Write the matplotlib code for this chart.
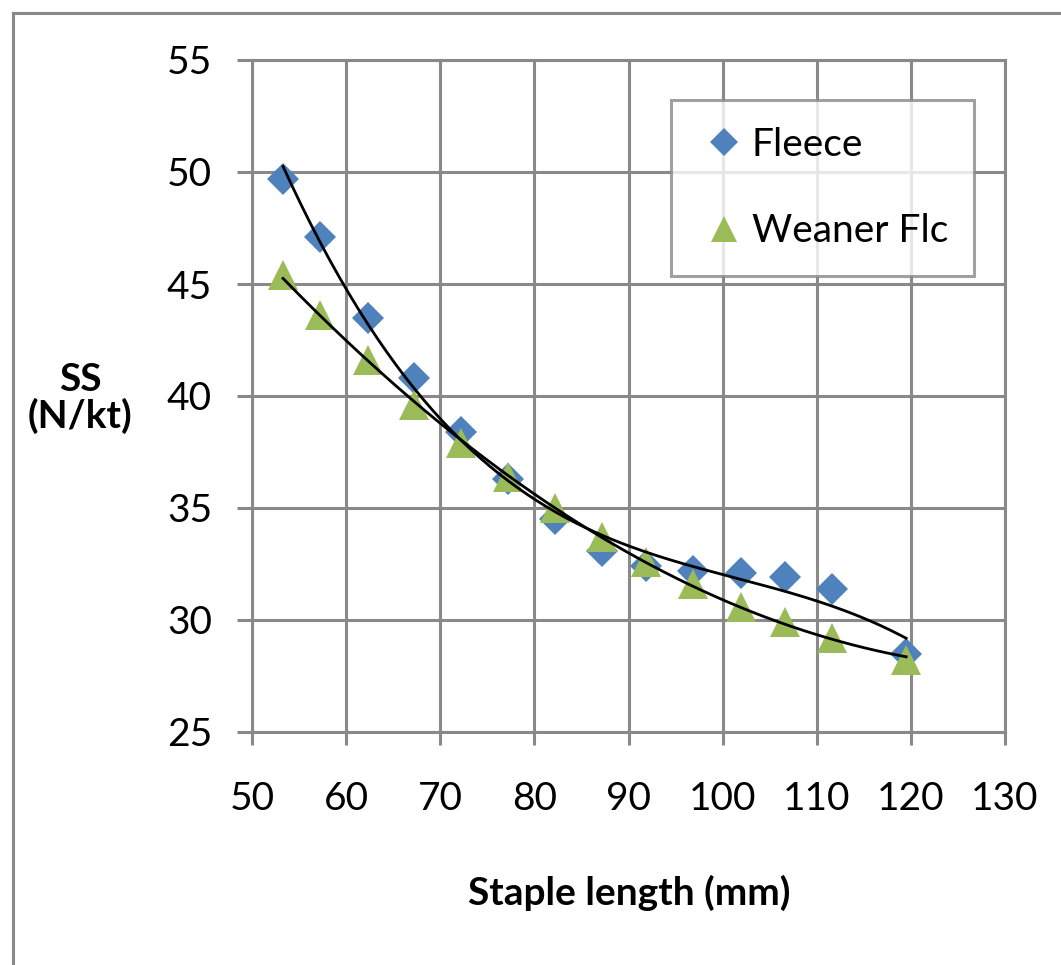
import numpy as np
import matplotlib.pyplot as plt
from matplotlib.lines import Line2D

# staple length (mm) and staple strength (N/kt)
staple_len = [53.3, 57.2, 62.3, 67.2, 72.2, 77.2, 82.2, 87.2, 91.9, 96.9, 101.9, 106.6, 111.6, 119.5]
fleece_ss = [49.7, 47.1, 43.5, 40.8, 38.4, 36.3, 34.5, 33.1, 32.4, 32.2, 32.1, 31.9, 31.4, 28.5]
weaner_ss = [45.4, 43.6, 41.6, 39.6, 37.9, 36.4, 35.0, 33.7, 32.6, 31.6, 30.6, 29.9, 29.2, 28.2]

x_ticks = [50, 60, 70, 80, 90, 100, 110, 120, 130]
y_ticks = [25, 30, 35, 40, 45, 50, 55]

blue = "#4f81bd"
green = "#9bbb59"
grey = "#898989"

plt.rcParams["font.family"] = ["Lato", "DejaVu Sans"]

W, H = 1061, 965
fig = plt.figure(figsize=(W / 100, H / 100), dpi=100)
ax = fig.add_axes([252 / W, 1 - 732 / H, 753 / W, 672 / H])

x = np.array(staple_len)

# trendlines (polynomial fits, as in the spreadsheet)
xs = np.linspace(x.min(), x.max(), 200)
pf = np.polyfit(x, fleece_ss, 3)
ax.plot(xs, np.polyval(pf, xs), color="black", lw=2, zorder=4)
pw = np.polyfit(x, weaner_ss, 2)
ax.plot(xs, np.polyval(pw, xs), color="black", lw=2, zorder=4)

ax.plot(x, fleece_ss, ls="none", marker="D", ms=16, color=blue, mew=0,
        label="Fleece", zorder=3)
ax.plot(x, weaner_ss, ls="none", marker="^", ms=22, color=green, mew=0,
        label="Weaner Flc", zorder=3)

ax.set_xlim(50, 130)
ax.set_ylim(25, 55)
ax.set_xticks(x_ticks)
ax.set_yticks(y_ticks)
ax.grid(True, color=grey, lw=2.2)
ax.set_axisbelow(True)
for s in ax.spines.values():
    s.set_color(grey)
    s.set_linewidth(2.2)
ax.tick_params(axis="both", direction="out", color=grey, width=2.2,
               labelsize=28, colors=grey, labelcolor="black")
ax.tick_params(axis="y", length=10.8, pad=18)
ax.tick_params(axis="x", length=9.4, pad=26)

leg = ax.legend(loc="upper left", bbox_to_anchor=(0.556, 0.94), fontsize=28,
                frameon=True, fancybox=False, edgecolor=grey, borderaxespad=0,
                borderpad=0.68, labelspacing=1.3, handlelength=1.4,
                handletextpad=0.0, markerscale=0.88)
leg.get_frame().set_linewidth(2.2)

fig.text(629 / W, 1 - 893 / H, "Staple length (mm)", ha="center", va="center",
         fontsize=28, fontweight="bold")
fig.text(80 / W, 1 - 398 / H, "SS\n(N/kt)", ha="center", va="center",
         fontsize=28, fontweight="bold", linespacing=1.05)

# chart area border (runs off the right and bottom of the picture)
fig.add_artist(Line2D([13 / W, 1], [1 - 13 / H, 1 - 13 / H], color=grey, lw=2.2,
                      transform=fig.transFigure))
fig.add_artist(Line2D([13 / W, 13 / W], [1 - 13 / H, 0], color=grey, lw=2.2,
                      transform=fig.transFigure))

fig.savefig("out.png", dpi=100)
